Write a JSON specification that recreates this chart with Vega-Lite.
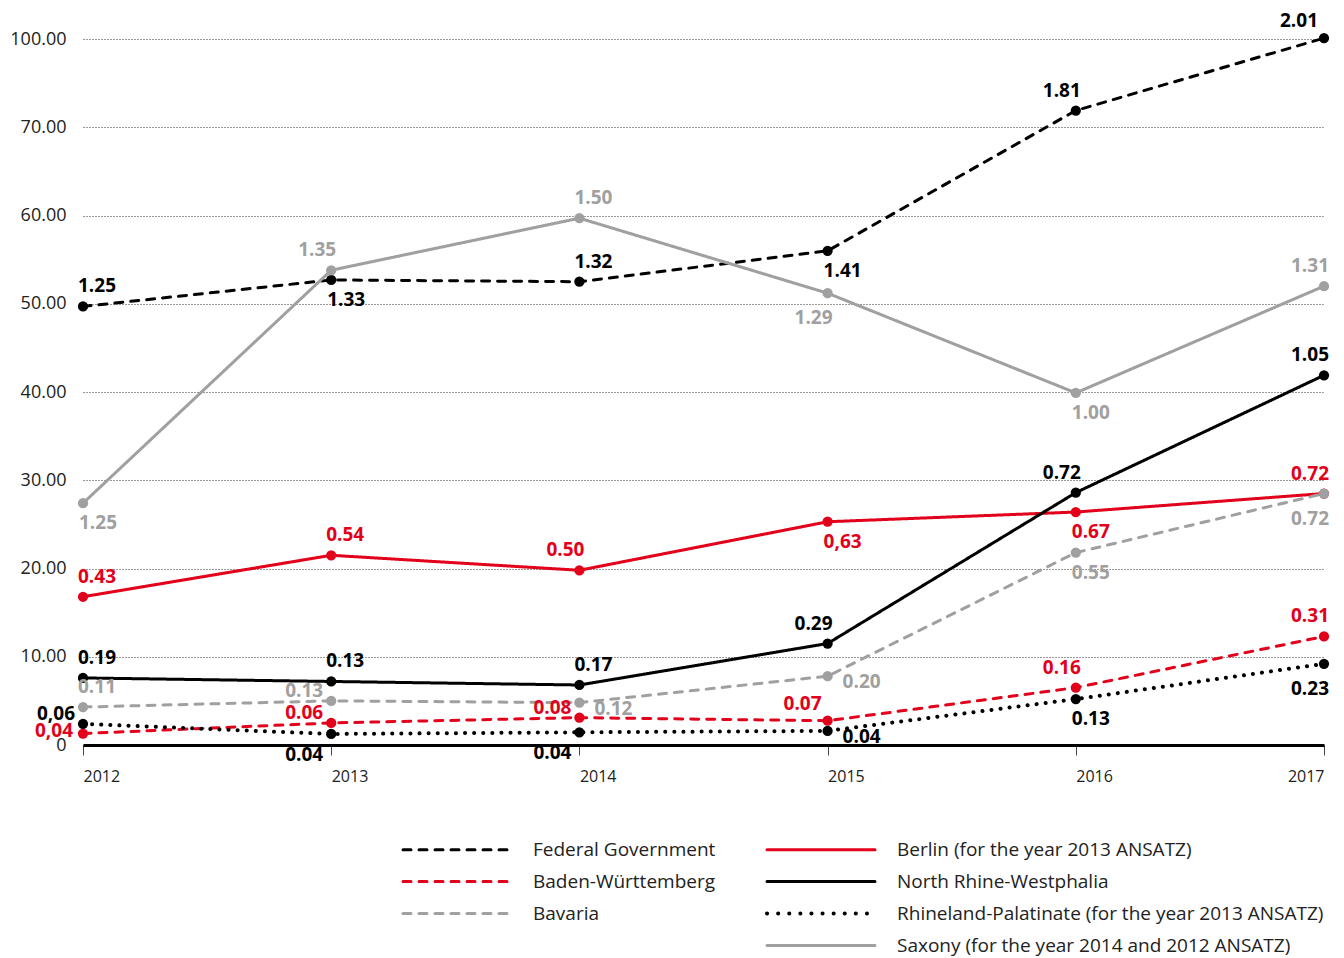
{
  "$schema": "https://vega.github.io/schema/vega-lite/v6.json",
  "autosize": "none",
  "width": 1241,
  "height": 706,
  "padding": {"left": 83, "top": 39, "right": 20, "bottom": 213},
  "background": "white",
  "config": {
    "view": {"stroke": null},
    "font": "Open Sans",
    "axis": {"labelFont": "Open Sans", "labelColor": "#222"}
  },
  "data": {
    "values": [
      {"series": "Federal Government", "year": 2012, "value": 49.7, "label": "1.25", "place": "above"},
      {"series": "Federal Government", "year": 2013, "value": 52.7, "label": "1.33", "place": "below"},
      {"series": "Federal Government", "year": 2014, "value": 52.5, "label": "1.32", "place": "above"},
      {"series": "Federal Government", "year": 2015, "value": 56.0, "label": "1.41", "place": "below"},
      {"series": "Federal Government", "year": 2016, "value": 75.7, "label": "1.81", "place": "aboveLeft"},
      {"series": "Federal Government", "year": 2017, "value": 100.3, "label": "2.01", "place": "aboveLeftFar"},
      {"series": "Saxony (for the year 2014 and 2012 ANSATZ)", "year": 2012, "value": 27.4, "label": "1.25", "place": "below"},
      {"series": "Saxony (for the year 2014 and 2012 ANSATZ)", "year": 2013, "value": 53.8, "label": "1.35", "place": "aboveLeft"},
      {"series": "Saxony (for the year 2014 and 2012 ANSATZ)", "year": 2014, "value": 59.7, "label": "1.50", "place": "above"},
      {"series": "Saxony (for the year 2014 and 2012 ANSATZ)", "year": 2015, "value": 51.2, "label": "1.29", "place": "belowLeft"},
      {"series": "Saxony (for the year 2014 and 2012 ANSATZ)", "year": 2016, "value": 39.9, "label": "1.00", "place": "below"},
      {"series": "Saxony (for the year 2014 and 2012 ANSATZ)", "year": 2017, "value": 52.0, "label": "1.31", "place": "aboveLeft"},
      {"series": "Berlin (for the year 2013 ANSATZ)", "year": 2012, "value": 16.8, "label": "0.43", "place": "above"},
      {"series": "Berlin (for the year 2013 ANSATZ)", "year": 2013, "value": 21.5, "label": "0.54", "place": "above"},
      {"series": "Berlin (for the year 2013 ANSATZ)", "year": 2014, "value": 19.8, "label": "0.50", "place": "aboveLeft"},
      {"series": "Berlin (for the year 2013 ANSATZ)", "year": 2015, "value": 25.3, "label": "0,63", "place": "below"},
      {"series": "Berlin (for the year 2013 ANSATZ)", "year": 2016, "value": 26.4, "label": "0.67", "place": "below"},
      {"series": "Berlin (for the year 2013 ANSATZ)", "year": 2017, "value": 28.5, "label": "0.72", "place": "aboveLeft"},
      {"series": "North Rhine-Westphalia", "year": 2012, "value": 7.6, "label": "0.19", "place": "above"},
      {"series": "North Rhine-Westphalia", "year": 2013, "value": 7.2, "label": "0.13", "place": "above"},
      {"series": "North Rhine-Westphalia", "year": 2014, "value": 6.8, "label": "0.17", "place": "above"},
      {"series": "North Rhine-Westphalia", "year": 2015, "value": 11.5, "label": "0.29", "place": "aboveLeft"},
      {"series": "North Rhine-Westphalia", "year": 2016, "value": 28.6, "label": "0.72", "place": "aboveLeft"},
      {"series": "North Rhine-Westphalia", "year": 2017, "value": 41.9, "label": "1.05", "place": "aboveLeft"},
      {"series": "Bavaria", "year": 2012, "value": 4.3, "label": "0.11", "place": "above"},
      {"series": "Bavaria", "year": 2013, "value": 5.0, "label": "0.13", "place": "left"},
      {"series": "Bavaria", "year": 2014, "value": 4.8, "label": "0.12", "place": "right"},
      {"series": "Bavaria", "year": 2015, "value": 7.8, "label": "0.20", "place": "right"},
      {"series": "Bavaria", "year": 2016, "value": 21.8, "label": "0.55", "place": "below"},
      {"series": "Bavaria", "year": 2017, "value": 28.5, "label": "0.72", "place": "belowLeft"},
      {"series": "Baden-Württemberg", "year": 2012, "value": 1.3, "label": "0,04", "place": "leftLow"},
      {"series": "Baden-Württemberg", "year": 2013, "value": 2.5, "label": "0.06", "place": "left"},
      {"series": "Baden-Württemberg", "year": 2014, "value": 3.1, "label": "0.08", "place": "left"},
      {"series": "Baden-Württemberg", "year": 2015, "value": 2.75, "label": "0.07", "place": "aboveLeftFar"},
      {"series": "Baden-Württemberg", "year": 2016, "value": 6.5, "label": "0.16", "place": "aboveLeft"},
      {"series": "Baden-Württemberg", "year": 2017, "value": 12.3, "label": "0.31", "place": "aboveLeft"},
      {"series": "Rhineland-Palatinate (for the year 2013 ANSATZ)", "year": 2012, "value": 2.4, "label": "0,06", "place": "left"},
      {"series": "Rhineland-Palatinate (for the year 2013 ANSATZ)", "year": 2013, "value": 1.25, "label": "0.04", "place": "belowLeftFar"},
      {"series": "Rhineland-Palatinate (for the year 2013 ANSATZ)", "year": 2014, "value": 1.44, "label": "0.04", "place": "belowLeftFar"},
      {"series": "Rhineland-Palatinate (for the year 2013 ANSATZ)", "year": 2015, "value": 1.6, "label": "0.04", "place": "right"},
      {"series": "Rhineland-Palatinate (for the year 2013 ANSATZ)", "year": 2016, "value": 5.2, "label": "0.13", "place": "below"},
      {"series": "Rhineland-Palatinate (for the year 2013 ANSATZ)", "year": 2017, "value": 9.2, "label": "0.23", "place": "belowLeft"}
    ]
  },
  "encoding": {
    "x": {
      "field": "year", "type": "quantitative",
      "scale": {"domain": [2012, 2017], "nice": false, "zero": false},
      "axis": {
        "title": null, "values": [2012, 2013, 2014, 2015, 2016, 2017], "format": "d",
        "grid": false, "domainColor": "#000", "domainWidth": 3,
        "tickColor": "#444", "tickWidth": 1, "tickSize": 10,
        "labelAlign": {"condition": {"test": "datum.value == 2017", "value": "right"}, "value": "left"},
        "labelFlush": false, "labelBaseline": "top", "labelPadding": 13,
        "labelFont": "Open Sans", "labelFontSize": 16, "labelColor": "#222"
      }
    },
    "y": {
      "field": "value", "type": "quantitative",
      "scale": {"domain": [0, 70, 100], "range": [706, 88.3, 0], "nice": false, "zero": false},
      "axis": {
        "title": null, "values": [0, 10, 20, 30, 40, 50, 60, 70, 100],
        "labelExpr": "datum.value == 0 ? '0' : format(datum.value, '.2f')",
        "domain": false, "ticks": false, "labelPadding": 17,
        "grid": true, "gridDash": [1, 2], "gridColor": "#333", "gridWidth": 1,
        "labelFontSize": 18, "labelColor": "#222"
      }
    }
  },
  "layer": [
    {
      "transform": [{"filter": "datum.series != 'Rhineland-Palatinate (for the year 2013 ANSATZ)'"}],
      "mark": {"type": "line", "strokeWidth": 3, "strokeCap": "round"},
      "encoding": {
        "color": {
          "field": "series", "type": "nominal",
          "scale": {
            "domain": ["Federal Government", "Baden-Württemberg", "Bavaria", " ", "Berlin (for the year 2013 ANSATZ)", "North Rhine-Westphalia", "Rhineland-Palatinate (for the year 2013 ANSATZ)", "Saxony (for the year 2014 and 2012 ANSATZ)"],
            "range": ["#000000", "#e2001a", "#a0a0a0", "#ffffff", "#e2001a", "#000000", "#000000", "#a0a0a0"]
          },
          "legend": {
            "title": null, "orient": "none", "legendX": 320, "legendY": 801, "columns": 2,
            "symbolType": "M-4,0H4", "symbolSize": 729, "symbolStrokeWidth": 3,
            "labelFont": "Open Sans", "labelFontSize": 19, "labelColor": "#222", "labelLimit": 700,
            "labelOffset": 111, "columnPadding": 43, "rowPadding": 12, "padding": 0,
            "encode": {"symbols": {"update": {"strokeCap": {"value": "round"}, "x": {"value": 54}, "strokeWidth": {"signal": "datum.value == 'Rhineland-Palatinate (for the year 2013 ANSATZ)' ? 4 : 3"}}}}
          }
        },
        "strokeDash": {
          "field": "series", "type": "nominal",
          "scale": {
            "domain": ["Federal Government", "Baden-Württemberg", "Bavaria", " ", "Berlin (for the year 2013 ANSATZ)", "North Rhine-Westphalia", "Rhineland-Palatinate (for the year 2013 ANSATZ)", "Saxony (for the year 2014 and 2012 ANSATZ)"],
            "range": [[8, 8], [8, 8], [8, 8], [1, 0], [1, 0], [1, 0], [0.1, 11], [1, 0]]
          },
          "legend": {
            "title": null, "orient": "none", "legendX": 320, "legendY": 801, "columns": 2,
            "symbolType": "M-4,0H4", "symbolSize": 729, "symbolStrokeWidth": 3,
            "labelFont": "Open Sans", "labelFontSize": 19, "labelColor": "#222", "labelLimit": 700,
            "labelOffset": 111, "columnPadding": 43, "rowPadding": 12, "padding": 0,
            "encode": {"symbols": {"update": {"strokeCap": {"value": "round"}, "x": {"value": 54}, "strokeWidth": {"signal": "datum.value == 'Rhineland-Palatinate (for the year 2013 ANSATZ)' ? 4 : 3"}}}}
          }
        }
      }
    },
    {
      "transform": [{"filter": "datum.series == 'Rhineland-Palatinate (for the year 2013 ANSATZ)'"}],
      "mark": {"type": "line", "strokeWidth": 4, "strokeCap": "round", "strokeDash": [0.1, 9], "color": "#000000"},
      "encoding": {}
    },
    {
      "mark": {"type": "point", "filled": true, "size": 105, "opacity": 1},
      "encoding": {"color": {"field": "series", "type": "nominal", "legend": null}}
    },
    {
      "transform": [{"filter": "datum.place == 'above'"}],
      "mark": {"type": "text", "align": "left", "baseline": "middle", "dx": -5, "dy": -20, "fontSize": 19, "fontWeight": "bold", "font": "Open Sans"},
      "encoding": {"text": {"field": "label"}, "color": {"field": "series", "type": "nominal", "legend": null}}
    },
    {
      "transform": [{"filter": "datum.place == 'below'"}],
      "mark": {"type": "text", "align": "left", "baseline": "middle", "dx": -4, "dy": 20, "fontSize": 19, "fontWeight": "bold", "font": "Open Sans"},
      "encoding": {"text": {"field": "label"}, "color": {"field": "series", "type": "nominal", "legend": null}}
    },
    {
      "transform": [{"filter": "datum.place == 'aboveLeft'"}],
      "mark": {"type": "text", "align": "right", "baseline": "middle", "dx": 5, "dy": -20, "fontSize": 19, "fontWeight": "bold", "font": "Open Sans"},
      "encoding": {"text": {"field": "label"}, "color": {"field": "series", "type": "nominal", "legend": null}}
    },
    {
      "transform": [{"filter": "datum.place == 'aboveLeftFar'"}],
      "mark": {"type": "text", "align": "right", "baseline": "middle", "dx": -6, "dy": -17, "fontSize": 19, "fontWeight": "bold", "font": "Open Sans"},
      "encoding": {"text": {"field": "label"}, "color": {"field": "series", "type": "nominal", "legend": null}}
    },
    {
      "transform": [{"filter": "datum.place == 'belowLeft'"}],
      "mark": {"type": "text", "align": "right", "baseline": "middle", "dx": 5, "dy": 25, "fontSize": 19, "fontWeight": "bold", "font": "Open Sans"},
      "encoding": {"text": {"field": "label"}, "color": {"field": "series", "type": "nominal", "legend": null}}
    },
    {
      "transform": [{"filter": "datum.place == 'belowLeftFar'"}],
      "mark": {"type": "text", "align": "right", "baseline": "middle", "dx": -8, "dy": 21, "fontSize": 19, "fontWeight": "bold", "font": "Open Sans"},
      "encoding": {"text": {"field": "label"}, "color": {"field": "series", "type": "nominal", "legend": null}}
    },
    {
      "transform": [{"filter": "datum.place == 'left'"}],
      "mark": {"type": "text", "align": "right", "baseline": "middle", "dx": -8, "dy": -10, "fontSize": 19, "fontWeight": "bold", "font": "Open Sans"},
      "encoding": {"text": {"field": "label"}, "color": {"field": "series", "type": "nominal", "legend": null}}
    },
    {
      "transform": [{"filter": "datum.place == 'leftLow'"}],
      "mark": {"type": "text", "align": "right", "baseline": "middle", "dx": -10, "dy": -3, "fontSize": 19, "fontWeight": "bold", "font": "Open Sans"},
      "encoding": {"text": {"field": "label"}, "color": {"field": "series", "type": "nominal", "legend": null}}
    },
    {
      "transform": [{"filter": "datum.place == 'right'"}],
      "mark": {"type": "text", "align": "left", "baseline": "middle", "dx": 15, "dy": 6, "fontSize": 19, "fontWeight": "bold", "font": "Open Sans"},
      "encoding": {"text": {"field": "label"}, "color": {"field": "series", "type": "nominal", "legend": null}}
    }
  ]
}
